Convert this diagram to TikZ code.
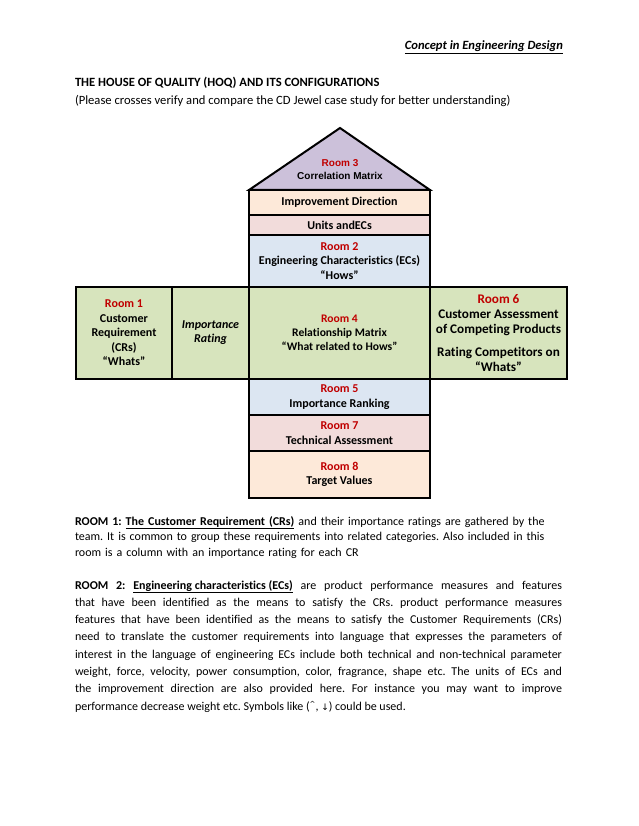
\documentclass[tikz,border=0pt]{standalone}
\usepackage{fontspec}
\setmainfont{Carlito}[Ligatures=NoCommon]
\newfontfamily\arialf{Liberation Sans}
\newfontfamily\symf{DejaVu Sans}
\definecolor{roofc}{HTML}{CCC1DA}
\definecolor{peach}{HTML}{FDE9D9}
\definecolor{pinkc}{HTML}{F2DCDB}
\definecolor{bluec}{HTML}{DCE6F2}
\definecolor{greenc}{HTML}{D7E4BD}
\definecolor{roomred}{HTML}{C00000}
\newcommand{\roomlbl}[1]{\textcolor{roomred}{#1}}
\tikzset{
  box/.style={draw=black, line width=2pt, inner sep=0pt, outer sep=0pt, align=center,
    font=\fontsize{12}{14.5}\selectfont\bfseries},
  bodytext/.style={inner sep=0pt, outer sep=0pt, font=\fontsize{12}{17.3}\selectfont},
  headtext/.style={inner sep=0pt, outer sep=0pt, font=\fontsize{12.6}{15}\selectfont}
}
\begin{document}
\frenchspacing
\begin{tikzpicture}[x=1pt,y=-1pt]
\useasboundingbox (0,0) rectangle (638,826);
% header texts
\node[headtext, anchor=base east] (hdr) at (563,50) {\bfseries\itshape\underline{Concept in Engineering Design}};
\node[headtext, anchor=base west] (title) at (75,87) {\bfseries THE HOUSE OF QUALITY (HOQ) AND ITS CONFIGURATIONS};
\node[headtext, anchor=base west] (sub) at (75,105) {(Please crosses verify and compare the CD Jewel case study for better understanding)};
% roof
\coordinate (rl) at (249,190);
\coordinate (rr) at (430,190);
\coordinate (apex) at (340,128);
\filldraw[fill=roofc, draw=black, line width=2pt, line join=miter] (rl) -- (apex) -- (rr) -- cycle;
\node[align=center, inner sep=0pt, font=\arialf\fontsize{10}{13}\selectfont\bfseries] (room3) at (340,170) {\roomlbl{Room 3}\\Correlation Matrix};
% central column
\node[box, fill=peach, minimum width=181, minimum height=25] (impr) at (339.5,202.5) {Improvement Direction};
\node[box, fill=pinkc, minimum width=181, minimum height=20] (units) at (339.5,225) {Units andECs};
\node[box, fill=bluec, minimum width=181, minimum height=52] (room2) at (339.5,261) {\roomlbl{Room 2}\\Engineering Characteristics (ECs)\\``Hows''};
\node[box, fill=greenc, minimum width=181, minimum height=92, font=\fontsize{11.6}{14.2}\selectfont\bfseries] (room4) at (339.5,333) {\roomlbl{Room 4}\\Relationship Matrix\\``What related to Hows''};
\node[box, fill=bluec, minimum width=181, minimum height=36] (room5) at (339.5,397) {\roomlbl{Room 5}\\Importance Ranking};
\node[box, fill=pinkc, minimum width=181, minimum height=36] (room7) at (339.5,433) {\roomlbl{Room 7}\\Technical Assessment};
\node[box, fill=peach, minimum width=181, minimum height=47] (room8) at (339.5,474.5) {\roomlbl{Room 8}\\Target Values};
% side boxes
\node[box, fill=greenc, minimum width=96, minimum height=92] (room1) at (124,333) {\roomlbl{Room 1}\\Customer\\Requirement\\(CRs)\\``Whats''};
\node[box, fill=greenc, minimum width=77, minimum height=92, font=\fontsize{12}{14.2}\selectfont\bfseries\itshape] (imp) at (210.5,333) {Importance\\Rating};
\node[box, fill=greenc, minimum width=137, minimum height=92, font=\fontsize{13.2}{15}\selectfont\bfseries] (room6) at (498.5,333) {\roomlbl{Room 6}\\Customer Assessment\\of Competing Products\\[8pt]Rating Competitors on\\``Whats''};
% paragraphs
\node[bodytext, anchor=base west, text width=490, align=left, font=\fontsize{12}{15.5}\selectfont] (p1) at (75,525)
{\textbf{ROOM 1: \underline{The Customer Requirement (CRs)}} and their importance ratings are gathered by the\\
team. It is common to group these requirements into related categories. Also included in this\\
room is a column with an importance rating for each CR};
\node[bodytext, anchor=base west, text width=487, align=justify] (p2) at (75,589)
{\textbf{ROOM 2: \underline{Engineering characteristics (ECs)}} are product performance measures and features\linebreak
that have been identified as the means to satisfy the CRs. product performance measures\linebreak
features that have been identified as the means to satisfy the Customer Requirements (CRs)\linebreak
need to translate the customer requirements into language that expresses the parameters of\linebreak
interest in the language of engineering ECs include both technical and non-technical parameter\linebreak
weight, force, velocity, power consumption, color, fragrance, shape etc. The units of ECs and\linebreak
the improvement direction are also provided here. For instance you may want to improve\linebreak
performance decrease weight etc. Symbols like ({\symf\raisebox{0.5ex}{\scriptsize\^{}}}, {\symf\small↓}) could be used.};
\end{tikzpicture}
\end{document}
